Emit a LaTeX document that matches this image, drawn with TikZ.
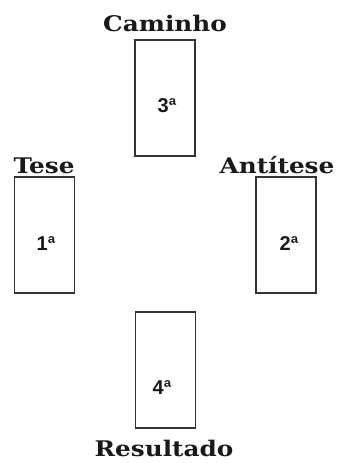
\documentclass[tikz,border=0pt]{standalone}
\usepackage{fontspec}
\newfontfamily\labfont[FakeStretch=1.15]{DejaVu Serif}
\newfontfamily\numfont{Liberation Sans}
\begin{document}
\begin{tikzpicture}[x=1pt,y=-1pt,
  card/.style={draw=black!80,line width=1.3pt,minimum width=60pt,minimum height=116pt,inner sep=0pt},
  num/.style={inner sep=0pt,font=\numfont\bfseries\fontsize{20}{20}\selectfont,text=black!90},
  lab/.style={inner sep=0pt,font=\labfont\bfseries\fontsize{21.5}{21.5}\selectfont,text=black!90}]
\useasboundingbox (0,0) rectangle (338,463);
\node[card] (c3) at (165,98) {};
\node[card] (c1) at (44.5,235) {};
\node[card] (c2) at (286,235) {};
\node[card] (c4) at (165.5,370) {};
\node[num] (n3) at (167,106) {3ª};
\node[num] (n1) at (46,244) {1ª};
\node[num] (n2) at (289,244) {2ª};
\node[num] (n4) at (162,388) {4ª};
\node[lab,anchor=base] (l3) at (165,31) {Caminho};
\node[lab,anchor=base] (l1) at (44,173) {Tese};
\node[lab,anchor=base] (l2) at (277,173) {Antítese};
\node[lab,anchor=base] (l4) at (164,456) {Resultado};
\end{tikzpicture}
\end{document}
